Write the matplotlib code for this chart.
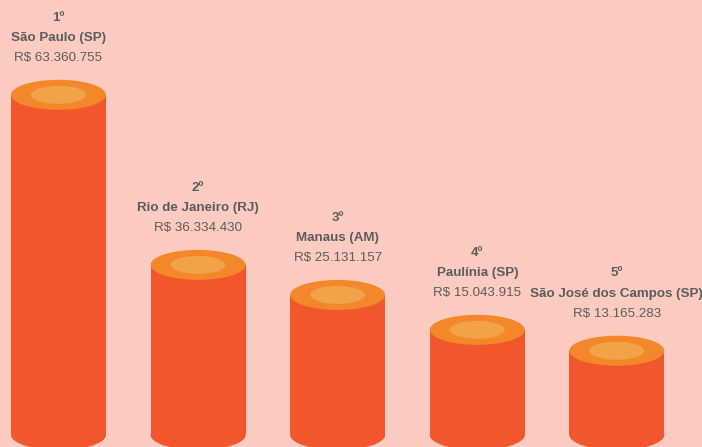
import matplotlib
matplotlib.use("Agg")
import matplotlib.pyplot as plt
from matplotlib.patches import Ellipse
from matplotlib import font_manager

# ---- data ----
ranks = ["1º", "2º", "3º", "4º", "5º"]
cities = ["São Paulo (SP)", "Rio de Janeiro (RJ)", "Manaus (AM)", "Paulínia (SP)", "São José dos Campos (SP)"]
value_labels = ["R$ 63.360.755", "R$ 36.334.430", "R$ 25.131.157", "R$ 15.043.915", "R$ 13.165.283"]
# displayed cylinder heights (as drawn in the infographic)
bar_heights = [63.4, 31.7, 26.1, 19.6, 15.7]

# ---- style ----
BG = "#FBCAC0"
BODY = "#F1562C"
TOP = "#F2882A"
INNER = "#F0A347"
TXT = "#5C5C5C"

names = {f.name for f in font_manager.fontManager.ttflist}
fam = "Liberation Sans Narrow" if "Liberation Sans Narrow" in names else "Liberation Sans"
fs = 10.8 if fam == "Liberation Sans Narrow" else 9.6

fig = plt.figure(figsize=(7.02, 4.47), dpi=100, facecolor=BG)
ax = fig.add_axes([0, 0, 1, 1])
ax.set_facecolor(BG)
ax.set_xlim(-0.419, 4.61)
ax.set_ylim(-2.24, 81.07)
ax.axis("off")

width = 0.68
ell_h = 5.6
inner_w = 0.394
inner_h = 3.35

for i, h in enumerate(bar_heights):
    ax.add_patch(Ellipse((i, 0), width, ell_h, facecolor=BODY, edgecolor="none", zorder=1))
    ax.bar(i, h, width=width, bottom=0, color=BODY, edgecolor="none", zorder=2)
    ax.add_patch(Ellipse((i, h), width, ell_h, facecolor=TOP, edgecolor="none", zorder=3))
    ax.add_patch(Ellipse((i, h), inner_w, inner_h, facecolor=INNER, edgecolor="none", zorder=4))
    top = h + ell_h / 2
    ax.text(i, top + 4.0, value_labels[i], ha="center", va="center", fontsize=fs,
            color=TXT, family=fam)
    ax.text(i, top + 7.8, cities[i], ha="center", va="center", fontsize=fs,
            color=TXT, family=fam, fontweight="bold")
    ax.text(i, top + 11.6, ranks[i], ha="center", va="center", fontsize=fs,
            color=TXT, family=fam, fontweight="bold")

fig.savefig("out.png", dpi=100, facecolor=BG)
